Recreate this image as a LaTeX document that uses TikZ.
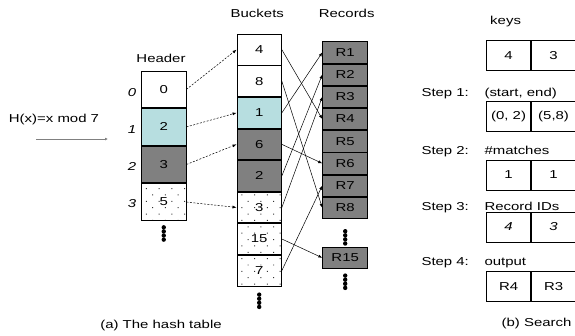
\documentclass[tikz,border=0pt]{standalone}
\usepackage{fontspec}
\setmainfont{Liberation Sans}[FakeStretch=1.3]
\usetikzlibrary{positioning,arrows.meta,patterns.meta}
\definecolor{paleblue}{RGB}{183,222,224}
\definecolor{darkcell}{RGB}{128,128,128}
\newcommand{\figfont}{\fontsize{11.5}{13}\selectfont}

\begin{document}
\begin{tikzpicture}
[
    x=1pt, y=-1pt,
    node distance=0pt,
    every node/.style={font=\figfont},
    idx/.style={font=\figfont\itshape},
    cell/.style={draw, line width=0.8pt, inner sep=0pt, minimum width=44.5pt},
    hcell/.style={cell, minimum height=36.75pt},
    bcell/.style={cell, minimum height=30.75pt},
    rcell/.style={cell, fill=darkcell, minimum width=45pt, minimum height=21.4pt},
    kcell/.style={cell, minimum width=44.2pt, minimum height=30pt},
    speckled/.style={pattern={Dots[radius=0.7pt, distance=9pt, angle=45]}, pattern color=black!80},
    ptr/.style={-{Latex[length=4pt, width=3pt]}, dash pattern=on 2pt off 1.5pt, line width=0.5pt},
    link/.style={-{Latex[length=4pt, width=3pt]}, line width=0.5pt},
    hasharrow/.style={-{Latex[length=3pt, width=3pt]}, draw=black!50, line width=1pt},
]
\useasboundingbox (0,0) rectangle (575,335);

\node [anchor=base] (header) at (161,62) {Header};
\node [hcell] (h0) at (163.75,89.4) {0};
\node [hcell, below=of h0, fill=paleblue] (h1) {2};
\node [hcell, below=of h1, fill=darkcell] (h2) {3};
\node [hcell, below=of h2, speckled] (h3) {5};
\foreach \n/\y in {0/96.7, 1/133.3, 2/170, 3/207.3}
    \node [idx, anchor=base] (idx\n) at (132,\y) {\n};

\node [anchor=base] (hash) at (54,122.7) {H(x)=x mod 7};
\coordinate (hstart) at (36,139);
\coordinate (hend) at (108,139);
\draw [hasharrow] (hstart) -- (hend);

\node [anchor=base] (buckets) at (257.3,17.3) {Buckets};
\node [bcell] (b4) at (259.2,49.7) {4};
\node [bcell, below=of b4] (b8) {8};
\node [bcell, below=of b8, fill=paleblue] (b1) {1};
\node [bcell, below=of b1, fill=darkcell] (b6) {6};
\node [bcell, below=of b6, fill=darkcell] (b2) {2};
\node [bcell, below=of b2, speckled] (b3) {3};
\node [bcell, below=of b3, speckled] (b15) {15};
\node [bcell, below=of b15, speckled] (b7) {7};

\node [anchor=base] (records) at (346.7,17.3) {Records};
\node [rcell] (r1) at (345.2,52.4) {R1};
\foreach \i [count=\j from 1] in {2,...,8}
    \node [rcell, below=of r\j] (r\i) {R\i};
\node [rcell] (r15) at (345.2,257.8) {R15};

\foreach \h/\b in {h0/b4, h1/b1, h2/b6, h3/b3}
    \draw [ptr] (\h.east) -- (\b.west);
\foreach \n in {4,8,1,6,2,3,15,7}
    \draw [link] (b\n.east) -- (r\n.west);

\foreach \c/\d in {h3/6.5, b7/8.3, r8/12.3, r15/6.7}
    \foreach \k in {0,...,3}
        \fill (\c.south) ++(0,\d+4.1*\k) circle [radius=2.2pt];

\node [anchor=base] (capa) at (161,328) {(a) The hash table};

\node [anchor=base west] (keys) at (486.7,24.3) {keys};
\node [kcell] (key1) at (508.6,55.7) {4};
\node [kcell, right=of key1] (key2) {3};

\node [anchor=base west] (step1) at (418,96) {Step 1:};
\node [anchor=base west] (range) at (481,96) {(start, end)};
\node [kcell] (se1) at (508.6,116.7) {(0, 2)};
\node [kcell, right=of se1] (se2) {(5,8)};

\node [anchor=base west] (step2) at (418,154) {Step 2:};
\node [anchor=base west] (matches) at (481,154) {\#matches};
\node [kcell] (nm1) at (508.6,175) {1};
\node [kcell, right=of nm1] (nm2) {1};

\node [anchor=base west] (step3) at (418,210) {Step 3:};
\node [anchor=base west] (ids) at (481,210) {Record IDs};
\node [kcell, idx] (id1) at (508.6,227) {4};
\node [kcell, idx, right=of id1] (id2) {3};

\node [anchor=base west] (step4) at (418,265) {Step 4:};
\node [anchor=base west] (output) at (481,265) {output};
\node [kcell] (out1) at (508.6,286.7) {R4};
\node [kcell, right=of out1] (out2) {R3};

\node [anchor=base east] (capb) at (575,326) {(b) Search};
\end{tikzpicture}
\end{document}
